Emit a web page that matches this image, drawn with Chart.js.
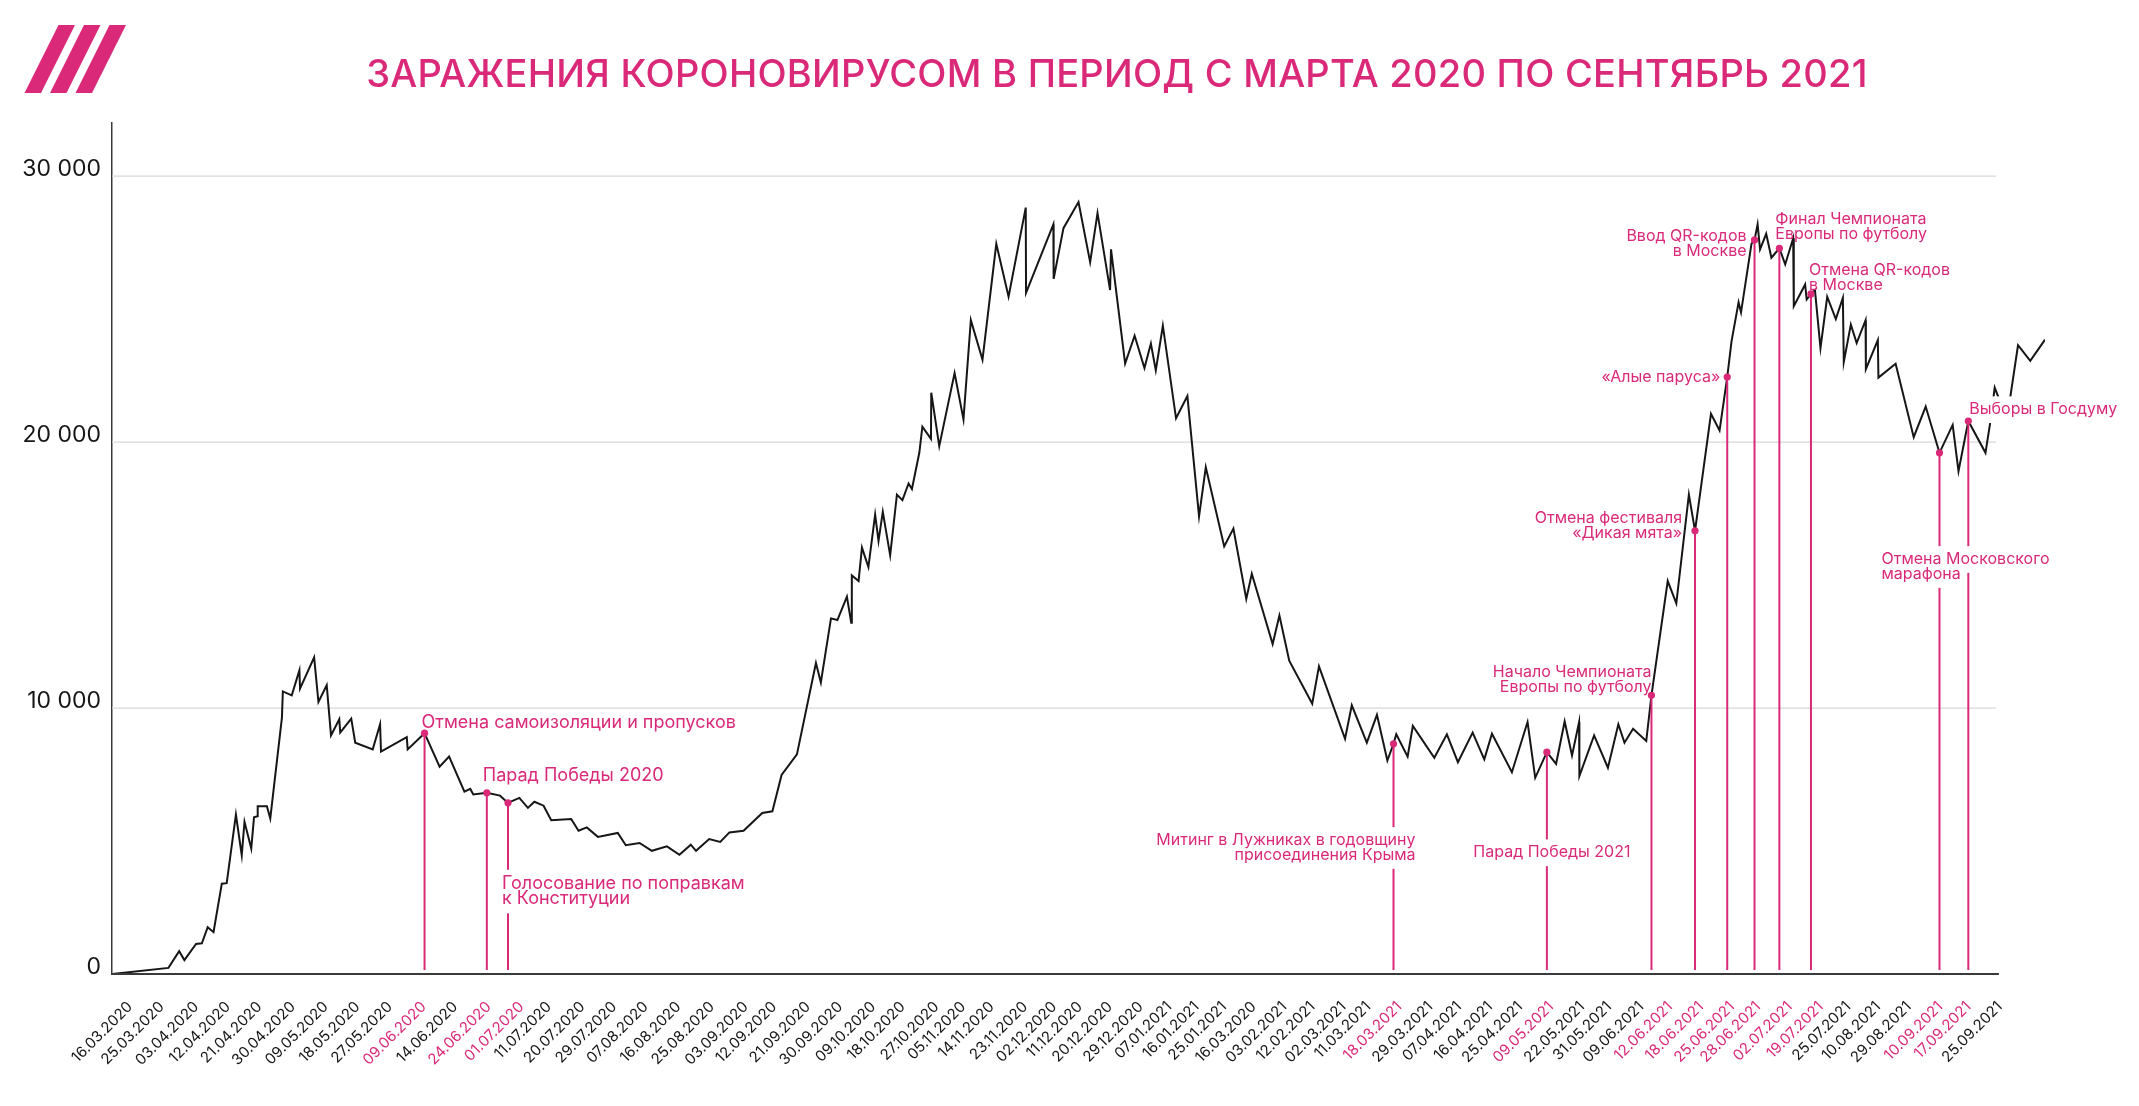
<!DOCTYPE html>
<html><head><meta charset="utf-8">
<script src="https://cdn.jsdelivr.net/npm/chart.js@4.4.1/dist/chart.umd.min.js"></script>
<style>html,body{margin:0;padding:0;background:#fff;}canvas{display:block}</style>
</head><body>
<canvas id="c" width="2139" height="1106"></canvas>
<script>
const TITLE = 'ЗАРАЖЕНИЯ КОРОНОВИРУСОМ В ПЕРИОД С МАРТА 2020 ПО СЕНТЯБРЬ 2021';

const tickLabels = ['16.03.2020','25.03.2020','03.04.2020','12.04.2020','21.04.2020','30.04.2020','09.05.2020','18.05.2020','27.05.2020','09.06.2020','14.06.2020','24.06.2020','01.07.2020','11.07.2020','20.07.2020','29.07.2020','07.08.2020','16.08.2020','25.08.2020','03.09.2020','12.09.2020','21.09.2020','30.09.2020','09.10.2020','18.10.2020','27.10.2020','05.11.2020','14.11.2020','23.11.2020','02.12.2020','11.12.2020','20.12.2020','29.12.2020','07.01.2021','16.01.2021','25.01.2021','16.03.2020','03.02.2021','12.02.2021','02.03.2021','11.03.2021','18.03.2021','29.03.2021','07.04.2021','16.04.2021','25.04.2021','09.05.2021','22.05.2021','31.05.2021','09.06.2021','12.06.2021','18.06.2021','25.06.2021','28.06.2021','02.07.2021','19.07.2021','25.07.2021','10.08.2021','29.08.2021','10.09.2021','17.09.2021','25.09.2021'];

// position of each date label on the timeline axis
const tickPos = [0,1.03,2.16,3.19,4.22,5.31,6.38,7.41,8.47,9.57,10.60,11.69,12.76,13.66,14.75,15.78,16.81,17.88,18.97,20.07,21.00,22.10,23.15,24.23,25.19,26.29,27.16,28.09,29.18,30.13,30.97,31.95,32.95,33.88,34.77,35.67,36.63,37.63,38.55,39.56,40.37,41.38,42.39,43.33,44.34,45.32,46.33,47.34,48.22,49.27,50.21,51.22,52.23,53.08,54.11,55.12,56.02,56.99,57.99,59.02,59.94,60.96];

const yTicks = [0, 10000, 20000, 30000];

// timeline position of each vertex of the curve
const timeline = [-0.45,1.38,1.73,1.90,2.28,2.47,2.66,2.85,3.12,3.28,
3.58,3.77,3.86,4.08,4.17,4.28,4.29,4.59,4.70,5.08,
5.11,5.40,5.65,5.67,6.13,6.27,6.54,6.68,6.95,6.98,
7.34,7.47,8.04,8.28,8.31,9.15,9.18,9.73,10.22,10.53,
11.03,11.22,11.32,11.76,12.19,12.45,12.82,13.10,13.31,13.61,
13.86,14.51,14.75,15.02,15.38,16.03,16.29,16.74,17.14,17.63,
18.04,18.41,18.58,19.01,19.37,19.67,20.13,20.74,21.07,21.37,
21.87,22.49,22.65,22.98,23.19,23.50,23.64,23.66,23.88,23.99,
24.20,24.42,24.53,24.67,24.91,25.13,25.31,25.51,25.62,25.86,
25.96,26.24,26.25,26.51,27.01,27.30,27.54,27.92,28.37,28.77,
29.33,29.34,30.23,30.24,30.56,31.05,31.43,31.67,32.08,32.11,
32.57,32.88,33.20,33.41,33.57,33.80,34.23,34.60,34.98,35.20,
35.80,36.10,36.52,36.70,37.38,37.60,37.92,38.67,38.89,39.74,
39.96,40.45,40.78,41.12,41.32,41.41,41.78,41.95,42.65,43.06,
43.42,43.90,44.28,44.53,45.18,45.69,45.94,46.32,46.62,46.90,
47.14,47.37,47.38,47.86,48.31,48.65,48.85,49.13,49.56,49.73,
50.26,50.54,50.95,51.15,51.67,51.95,52.20,52.34,52.57,52.65,
52.99,53.09,53.19,53.27,53.47,53.64,53.90,54.09,54.35,54.37,
54.74,54.79,54.93,55.06,55.24,55.46,55.74,55.97,56.00,56.23,
56.42,56.71,56.72,57.11,57.13,57.69,58.28,58.67,59.12,59.55,
59.74,60.06,60.62,60.79,60.92,61.32,61.68,62.08,62.56];

// new infections
const newCases = [0,230,860,524,1132,1153,1760,1572,3396,3417,
5995,4465,5722,4716,5890,5932,6309,6309,5848,9642,
10627,10480,11423,10732,11905,10228,10857,8971,9579,9076,
9600,8698,8447,9390,8363,8908,8447,9055,7797,8174,
6854,6959,6749,6812,6707,6435,6623,6246,6477,6330,
5785,5827,5387,5512,5156,5303,4842,4926,4632,4800,
4485,4863,4632,5072,4968,5324,5387,6057,6120,7483,
8258,11696,10962,13372,13310,14190,13205,14986,14777,16034,
15300,17271,16286,17376,15741,18026,17816,18445,18235,19598,
20583,20122,21861,19849,22595,20855,24586,23098,27458,25466,
28820,25613,28191,26137,28045,29030,26766,28611,25718,27248,
22951,24000,22784,23706,22700,24377,20897,21735,17208,19052,
16076,16747,14106,15049,12408,13477,11780,10166,11570,8845,
10103,8698,9746,8028,8656,9013,8174,9327,8132,9013,
7965,9076,8070,9034,7588,9474,7378,8342,7902,9495,
8216,9474,7441,8971,7755,9390,8698,9222,8761,10480,
14777,13938,18026,16663,21065,20436,22448,23790,25257,24880,
27458,27605,28191,27248,27835,26934,27290,26682,27667,25110,
25928,25362,25571,25718,23538,25466,24628,25424,23014,24418,
23727,24586,22742,23832,22427,22951,20185,21337,19598,20646,
18906,20793,19598,20855,22050,20855,23643,23056,23852];

// events
const eventDates = ['09.06.2020','24.06.2020','01.07.2020','18.03.2021','09.05.2021','12.06.2021','18.06.2021','25.06.2021','28.06.2021','02.07.2021','19.07.2021','10.09.2021','17.09.2021'];
const eventX = [9.73,11.76,12.45,41.32,46.32,49.73,51.15,52.20,53.09,53.90,54.93,59.12,60.06];
const eventY = [9055,6812,6435,8656,8342,10480,16663,22448,27605,27290,25571,19598,20793];
const eventText = [
  ['Отмена самоизоляции и пропусков'],
  ['Парад Победы 2020'],
  ['Голосование по поправкам','к Конституции'],
  ['Митинг в Лужниках в годовщину','присоединения Крыма'],
  ['Парад Победы 2021'],
  ['Начало Чемпионата','Европы по футболу'],
  ['Отмена фестиваля','«Дикая мята»'],
  ['«Алые паруса»'],
  ['Ввод QR-кодов','в Москве'],
  ['Финал Чемпионата','Европы по футболу'],
  ['Отмена QR-кодов','в Москве'],
  ['Отмена Московского','марафона'],
  ['Выборы в Госдуму']
];

// ---- styling / layout (not data) ----
const PINK = '#d92978';
const INK = '#161616';
const FONT = 'Inter, "Noto Sans", sans-serif';
const labelLayout = [
  {align:'left',  dx:-3,   dy:-5,    size:18, bg:false},
  {align:'left',  dx:-4,   dy:-12,   size:18, bg:false},
  {align:'left',  dx:-6,   dy:86,    size:18, bg:true},
  {align:'right', dx:22,   dy:101,   size:16, bg:true},
  {align:'center',dx:5,    dy:105,   size:16, bg:true},
  {align:'right', dx:0,    dy:-18,   size:16, bg:false},
  {align:'right', dx:-13,  dy:-8,    size:16, bg:false},
  {align:'right', dx:-7,   dy:5,     size:16, bg:false},
  {align:'right', dx:-8,   dy:1,     size:16, bg:false},
  {align:'left',  dx:-4,   dy:-24,   size:16, bg:false},
  {align:'left',  dx:-2,   dy:-19,   size:16, bg:false},
  {align:'left',  dx:-58,  dy:111,   size:16, bg:true},
  {align:'left',  dx:1,    dy:-7,    size:16, bg:true}
];
const LINE_H = 15;

function fmt(v){ return String(v).replace(/\B(?=(\d{3})+(?!\d))/g, ' '); }

const decor = {
  id: 'decor',
  beforeDatasetsDraw(chart) {
    const {ctx, chartArea, scales:{x, y}} = chart;
    const xEnd = x.getPixelForValue(tickPos[tickPos.length-1]);
    ctx.save();
    ctx.strokeStyle = '#d8d8d8';
    ctx.lineWidth = 1.3;
    yTicks.forEach(v => {
      if (v === 0) return;
      const py = y.getPixelForValue(v);
      ctx.beginPath(); ctx.moveTo(chartArea.left, py); ctx.lineTo(xEnd, py); ctx.stroke();
    });
    ctx.restore();
  },
  afterDatasetsDraw(chart) {
    const {ctx, chartArea, scales:{x, y}} = chart;
    const xEnd = x.getPixelForValue(tickPos[tickPos.length-1]);
    const y0 = y.getPixelForValue(0);
    ctx.save();
    // x axis line
    ctx.strokeStyle = '#3a3a3a'; ctx.lineWidth = 2;
    ctx.beginPath(); ctx.moveTo(chartArea.left, y0); ctx.lineTo(xEnd + 3, y0); ctx.stroke();
    // event drop lines
    ctx.strokeStyle = PINK; ctx.lineWidth = 2;
    eventX.forEach((ex, i) => {
      const px = x.getPixelForValue(ex), py = y.getPixelForValue(eventY[i]);
      ctx.beginPath(); ctx.moveTo(px, py); ctx.lineTo(px, y0 - 4); ctx.stroke();
    });
    // event labels
    eventText.forEach((lines, i) => {
      const L = labelLayout[i];
      const px = x.getPixelForValue(eventX[i]) + L.dx;
      const py = y.getPixelForValue(eventY[i]) + L.dy;
      ctx.font = `${L.size}px ${FONT}`;
      ctx.textBaseline = 'alphabetic';
      lines.forEach((t, k) => {
        const w = ctx.measureText(t).width;
        const by = py + k * LINE_H;
        let left = L.align === 'left' ? px : (L.align === 'right' ? px - w : px - w / 2);
        if (L.bg) {
          ctx.fillStyle = '#fff';
          ctx.fillRect(left - 4, by - 0.73 * L.size - 6, w + 8, 0.98 * L.size + 11);
        }
      });
      ctx.fillStyle = PINK;
      ctx.textAlign = L.align;
      lines.forEach((t, k) => ctx.fillText(t, px, py + k * LINE_H));
    });
    // event dots
    ctx.fillStyle = PINK;
    eventX.forEach((ex, i) => {
      ctx.beginPath();
      ctx.arc(x.getPixelForValue(ex), y.getPixelForValue(eventY[i]), 3.6, 0, Math.PI * 2);
      ctx.fill();
    });
    ctx.restore();
  },
  afterDraw(chart) {
    const {ctx} = chart;
    ctx.save();
    // logo
    ctx.fillStyle = PINK;
    for (let k = 0; k < 3; k++) {
      const o = k * 25.5;
      ctx.beginPath();
      ctx.moveTo(24.5 + o, 93); ctx.lineTo(41 + o, 93);
      ctx.lineTo(75 + o, 25); ctx.lineTo(58.5 + o, 25);
      ctx.closePath(); ctx.fill();
    }
    // title
    ctx.font = `500 38px ${FONT}`;
    if ('letterSpacing' in ctx) ctx.letterSpacing = '0.25px';
    ctx.textAlign = 'center';
    ctx.textBaseline = 'alphabetic';
    ctx.fillText(TITLE, 1117, 87);
    ctx.restore();
  }
};

Chart.defaults.font.family = FONT;

new Chart(document.getElementById('c'), {
  type: 'line',
  data: {
    datasets: [{
      label: 'Заражения',
      data: timeline.map((t, i) => ({x: t, y: newCases[i]})),
      borderColor: INK,
      borderWidth: 2,
      pointRadius: 0,
      tension: 0,
      fill: false
    }]
  },
  options: {
    responsive: false,
    animation: false,
    devicePixelRatio: 1,
    layout: { padding: { left: 0, right: 94, top: 123, bottom: 0 } },
    plugins: { legend: { display: false }, tooltip: { enabled: false }, title: { display: false } },
    scales: {
      x: {
        type: 'linear',
        min: -0.46,
        max: timeline[timeline.length - 1],
        grid: { display: false },
        border: { display: false },
        afterBuildTicks: (axis) => { axis.ticks = tickPos.map(v => ({ value: v })); },
        afterFit: (axis) => { axis.height = 132; },
        ticks: {
          autoSkip: false,
          maxRotation: 45,
          minRotation: 45,
          padding: 16,
          labelOffset: 4,
          font: { size: 15 },
          color: (c) => eventDates.includes(tickLabels[c.index]) ? PINK : INK,
          callback: (v, i) => tickLabels[i]
        }
      },
      y: {
        min: 0,
        max: 32000,
        grid: { display: false, drawTicks: false },
        border: { display: true, color: '#3a3a3a', width: 1.5 },
        afterBuildTicks: (axis) => { axis.ticks = yTicks.map(v => ({ value: v })); },
        afterFit: (axis) => { axis.width = 112; },
        ticks: {
          padding: 11,
          labelOffset: -7,
          font: { size: 23 },
          color: INK,
          callback: (v) => fmt(v)
        }
      }
    }
  },
  plugins: [decor]
});
</script>
</body></html>
